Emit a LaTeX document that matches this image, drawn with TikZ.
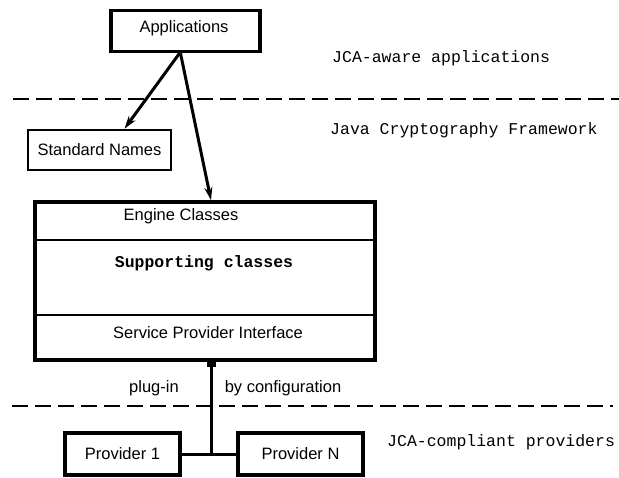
\documentclass[tikz,border=0pt]{standalone}
\usepackage{fontspec}
\setmainfont{Liberation Sans}
\setmonofont{Liberation Mono}
\usetikzlibrary{arrows.meta}
\begin{document}
\begin{tikzpicture}[x=1pt,y=-1pt,
  every node/.style={font=\fontsize{16.5}{18}\selectfont},
  box/.style={draw,line width=3.6pt,inner sep=0pt},
  thinbox/.style={draw,line width=2.6pt,inner sep=0pt},
  arr/.style={line width=3pt,-{Stealth[length=13pt,width=8pt]}},
  sep/.style={line width=1.8pt,dash pattern=on 16pt off 7pt},
  layer/.style={font=\fontsize{16.5}{18}\selectfont\ttfamily,anchor=west,inner sep=0pt},
  lbl/.style={inner sep=0pt}]
\useasboundingbox (0,0) rectangle (619,477);

% layer separators
\draw[sep] (13,99) -- (619,99);
\draw[sep] (12,406) -- (613,406);

% layer names
\node[layer] (l1) at (332,58) {JCA-aware applications};
\node[layer] (l2) at (330,130) {Java Cryptography Framework};
\node[layer] (l3) at (387,442) {JCA-compliant providers};

% boxes
\node[box,minimum width=149pt,minimum height=41pt] (app) at (185.5,31) {};
\node[lbl] at (184,28) {Applications};
\node[thinbox,minimum width=143pt,minimum height=40pt] (std) at (99.5,150) {Standard Names};

\node[box,minimum width=340pt,minimum height=158pt] (eng) at (205,281) {};
\draw[line width=1.3pt] (eng.west |- 0,240) -- (eng.east |- 0,240);
\draw[line width=1.3pt] (eng.west |- 0,315) -- (eng.east |- 0,315);
\node[lbl] (ec) at (181,216) {Engine Classes};
\node[lbl,font=\fontsize{16.5}{18}\selectfont\ttfamily\bfseries] (sc) at (204,263) {Supporting classes};
\node[lbl] (spi) at (208,333) {Service Provider Interface};

\node[box,minimum width=115pt,minimum height=42pt] (p1) at (122.5,454) {Provider 1};
\node[box,minimum width=125pt,minimum height=42pt] (pn) at (300.5,454) {Provider N};

% arrows from the applications
\draw[arr] ([xshift=-6pt]app.south) -- ([xshift=25pt]std.north);
\draw[arr] ([xshift=-5pt]app.south) -- ([xshift=6pt]eng.north);

% provider plug-in
\coordinate (join) at ([xshift=6pt]eng.south |- p1.east);
\draw[line width=3pt] (p1.east) -- (pn.west);
\draw[line width=3pt] ([xshift=6pt]eng.south) -- (join);
\fill ([xshift=6pt,yshift=-1pt]eng.south) circle (3.5pt);
\fill ([xshift=6pt,yshift=4pt]eng.south) ++(-4.5,0) rectangle ++(9,9);

\node[lbl] (pl) at (154,388) {plug-in};
\node[lbl] (bc) at (283,388) {by configuration};
\end{tikzpicture}
\end{document}
